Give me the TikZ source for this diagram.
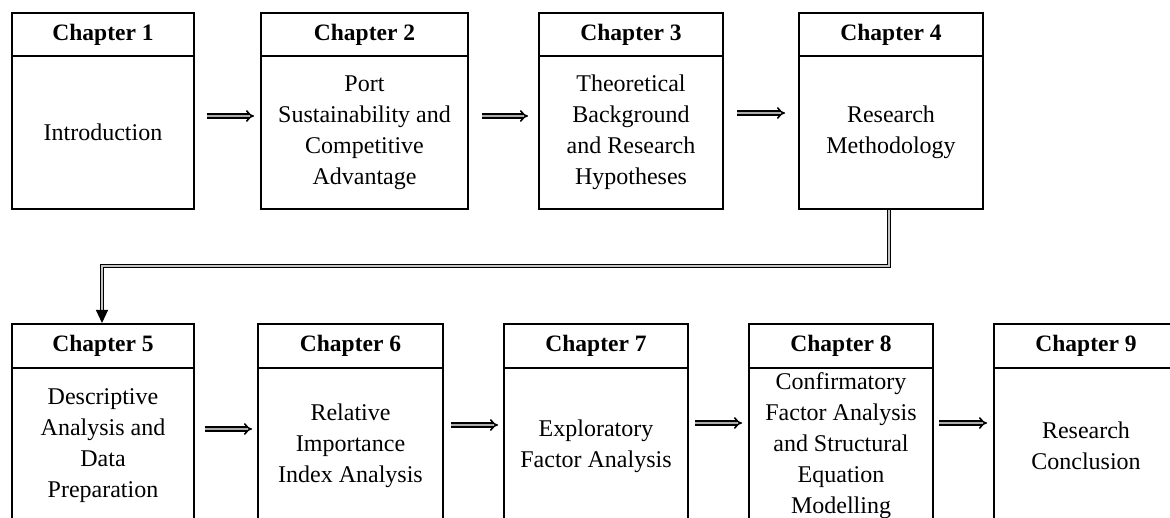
\documentclass[tikz,border=0pt]{standalone}
\usepackage{fontspec}
\setmainfont{Liberation Serif}
\usetikzlibrary{arrows.meta}
\begin{document}
\begin{tikzpicture}[x=1pt,y=-1pt,
  head/.style={draw, line width=2pt, inner sep=0pt, anchor=north west,
    font=\fontsize{23.5}{28}\selectfont\bfseries},
  body/.style={draw, line width=2pt, inner sep=0pt, anchor=north west, align=center,
    font=\fontsize{24}{31}\selectfont},
  flow/.style={double=gray!65, double distance=2.2pt, line width=1.6pt, -{Implies}},
  link/.style={double=gray!45, double distance=2pt, line width=1.1pt,
    -{Triangle[length=13pt,width=12pt]}}]
\path[use as bounding box] (0,0) rectangle (1170,518);
\clip (0,0) rectangle (1170,518);

% top row: chapters 1-4
\node[head, minimum width=182pt, minimum height=43pt] (h1) at (11,12) {Chapter 1};
\node[body, minimum width=182pt, minimum height=153pt] (b1) at (11,55) {Introduction};
\node[head, minimum width=207pt, minimum height=43pt] (h2) at (260,12) {Chapter 2};
\node[body, minimum width=207pt, minimum height=153pt] (b2) at (260,55)
  {Port\\Sustainability and\\Competitive\\Advantage};
\node[head, minimum width=184pt, minimum height=43pt] (h3) at (538,12) {Chapter 3};
\node[body, minimum width=184pt, minimum height=153pt] (b3) at (538,55)
  {Theoretical\\Background\\and Research\\Hypotheses};
\node[head, minimum width=184pt, minimum height=43pt] (h4) at (798,12) {Chapter 4};
\node[body, minimum width=184pt, minimum height=153pt] (b4) at (798,55)
  {Research\\Methodology};

% bottom row: chapters 5-9
\node[head, minimum width=182pt, minimum height=44pt] (h5) at (11,323) {Chapter 5};
\node[body, minimum width=182pt, minimum height=156pt] (b5) at (11,367)
  {Descriptive\\Analysis and\\Data\\Preparation};
\node[head, minimum width=185pt, minimum height=44pt] (h6) at (257,323) {Chapter 6};
\node[body, minimum width=185pt, minimum height=156pt] (b6) at (257,367)
  {Relative\\Importance\\Index Analysis};
\node[head, minimum width=184pt, minimum height=44pt] (h7) at (503,323) {Chapter 7};
\node[body, minimum width=184pt, minimum height=156pt] (b7) at (503,367)
  {Exploratory\\Factor Analysis};
\node[head, minimum width=184pt, minimum height=44pt] (h8) at (748,323) {Chapter 8};
\node[body, minimum width=184pt, minimum height=156pt] (b8) at (748,367)
  {Confirmatory\\Factor Analysis\\and Structural\\Equation\\Modelling};
\node[head, minimum width=184pt, minimum height=44pt] (h9) at (993,323) {Chapter 9};
\node[body, minimum width=184pt, minimum height=156pt] (b9) at (993,367)
  {Research\\Conclusion};

% arrows along each row
\draw[flow] ([xshift=12pt,yshift=16.5pt]b1.east) -- ([xshift=-6pt,yshift=16.5pt]b2.west);
\draw[flow] ([xshift=13pt,yshift=16.5pt]b2.east) -- ([xshift=-10pt,yshift=16.5pt]b3.west);
\draw[flow] ([xshift=13pt,yshift=19.5pt]b3.east) -- ([xshift=-13pt,yshift=19.5pt]b4.west);
\draw[flow] ([xshift=10pt,yshift=17pt]b5.east) -- ([xshift=-5pt,yshift=17pt]b6.west);
\draw[flow] ([xshift=7pt,yshift=21pt]b6.east) -- ([xshift=-5pt,yshift=21pt]b7.west);
\draw[flow] ([xshift=6pt,yshift=23pt]b7.east) -- ([xshift=-6pt,yshift=23pt]b8.west);
\draw[flow] ([xshift=5pt,yshift=23pt]b8.east) -- ([xshift=-6pt,yshift=23pt]b9.west);

% link from chapter 4 down to chapter 5
\coordinate (k1) at (889,266);
\coordinate (k2) at (102,266);
\draw[link] (b4.south -| k1) -- (k1) -- (k2) -- (h5.north -| k2);
\end{tikzpicture}
\end{document}
